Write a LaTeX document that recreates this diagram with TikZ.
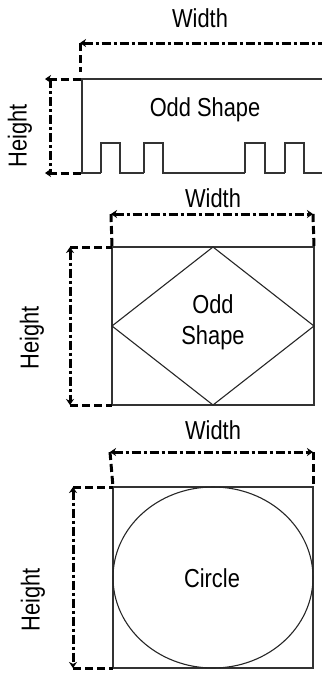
\documentclass[tikz,border=0pt]{standalone}
\usepackage{fontspec}
\setmainfont{Liberation Sans}
\newfontfamily\narrowfont[FakeStretch=0.84]{Liberation Sans}
\usetikzlibrary{arrows.meta}

\tikzset{
  outline/.style={draw=black!80, line width=1.5pt},
  thinline/.style={draw=black!85, line width=1.1pt},
  dimline/.style={line width=3pt, dash pattern=on 9pt off 3pt on 3pt off 3pt},
  extline/.style={line width=3pt, dash pattern=on 8pt off 4pt},
  dimtext/.style={font=\narrowfont\fontsize{26}{31}\selectfont, inner sep=0pt, align=center},
}

\begin{document}
\begin{tikzpicture}[x=1pt, y=-1pt, >={Stealth[length=6pt,width=8pt]}]
    \useasboundingbox (0,0) rectangle (322,673);

    % --- Primo riquadro: forma strana con onda quadra ---
    \coordinate (tl1) at (82,79);
    \coordinate (tr1) at (322,79);
    \coordinate (bl1) at (82,173);
    \coordinate (wl1) at (80,43);
    \coordinate (wr1) at (322,43);
    \coordinate (wx1) at (80,72);
    \coordinate (ht1) at (50,79);
    \coordinate (hb1) at (50,173);
    \coordinate (et1) at (45,79);
    \coordinate (eb1) at (45,173);

    \draw[outline] (tr1) -- (tl1) -- (bl1) -- (101,173);
    % impulsi dell'onda quadra
    \foreach \xa/\xb/\xc in {101/120/144, 144/163/245, 245/265/285, 285/304/322}
        \draw[outline] (\xa,173) -- (\xa,143) -- (\xb,143) -- (\xb,173) -- (\xc,173);

    \draw[dimline, <-] (wl1) -- (wr1);
    \draw[extline] (wl1) -- (wx1);
    \draw[dimline] (ht1) -- (hb1);
    \draw[extline, <-] (et1) -- (tl1);
    \draw[extline, <-] (eb1) -- (bl1);

    \node[dimtext] (width1) at (200,18) {Width};
    \node[dimtext, rotate=90] (height1) at (20,136) {Height};
    \node[dimtext] (shape1) at (205,110) {Odd Shape};

    % --- Secondo riquadro: rombo ---
    \coordinate (tl2) at (112,247);
    \coordinate (tr2) at (314,247);
    \coordinate (bl2) at (112,405);
    \coordinate (br2) at (314,405);
    \coordinate (wl2) at (111,214);
    \coordinate (wr2) at (313,214);
    \coordinate (ht2) at (70,247);
    \coordinate (hb2) at (70,405);

    \draw[outline] (tl2) rectangle (br2);
    \draw[thinline] (213,247) -- (314,326) -- (213,405) -- (112,326) -- cycle;

    \draw[dimline, <->] (wl2) -- (wr2);
    \draw[extline] (wl2) -- (tl2);
    \draw[extline] (wr2) -- (tr2);
    \draw[dimline, <->] (ht2) -- (hb2);
    \draw[extline] (ht2) -- (tl2);
    \draw[extline] (hb2) -- (bl2);

    \node[dimtext] (width2) at (213,198) {Width};
    \node[dimtext, rotate=90] (height2) at (32,338) {Height};
    \node[dimtext] (shape2) at (213,322) {Odd\\Shape};

    % --- Terzo riquadro: cerchio ---
    \coordinate (tl3) at (113,487);
    \coordinate (tr3) at (313,487);
    \coordinate (bl3) at (113,668);
    \coordinate (br3) at (313,668);
    \coordinate (wl3) at (110,452);
    \coordinate (wr3) at (313,452);
    \coordinate (ht3) at (73,487);
    \coordinate (hb3) at (73,668);

    \draw[outline] (tl3) rectangle (br3);
    \draw[thinline] (213,577.5) ellipse (100 and 90.5);

    \draw[dimline, <->] (wl3) -- (wr3);
    \draw[extline] (wl3) -- (tl3);
    \draw[extline] (wr3) -- (tr3);
    \draw[dimline, <->] (ht3) -- (hb3);
    \draw[extline] (ht3) -- (tl3);
    \draw[extline] (hb3) -- (bl3);

    \node[dimtext] (width3) at (213,430) {Width};
    \node[dimtext, rotate=90] (height3) at (33,600) {Height};
    \node[dimtext] (shape3) at (212,578) {Circle};

\end{tikzpicture}
\end{document}
